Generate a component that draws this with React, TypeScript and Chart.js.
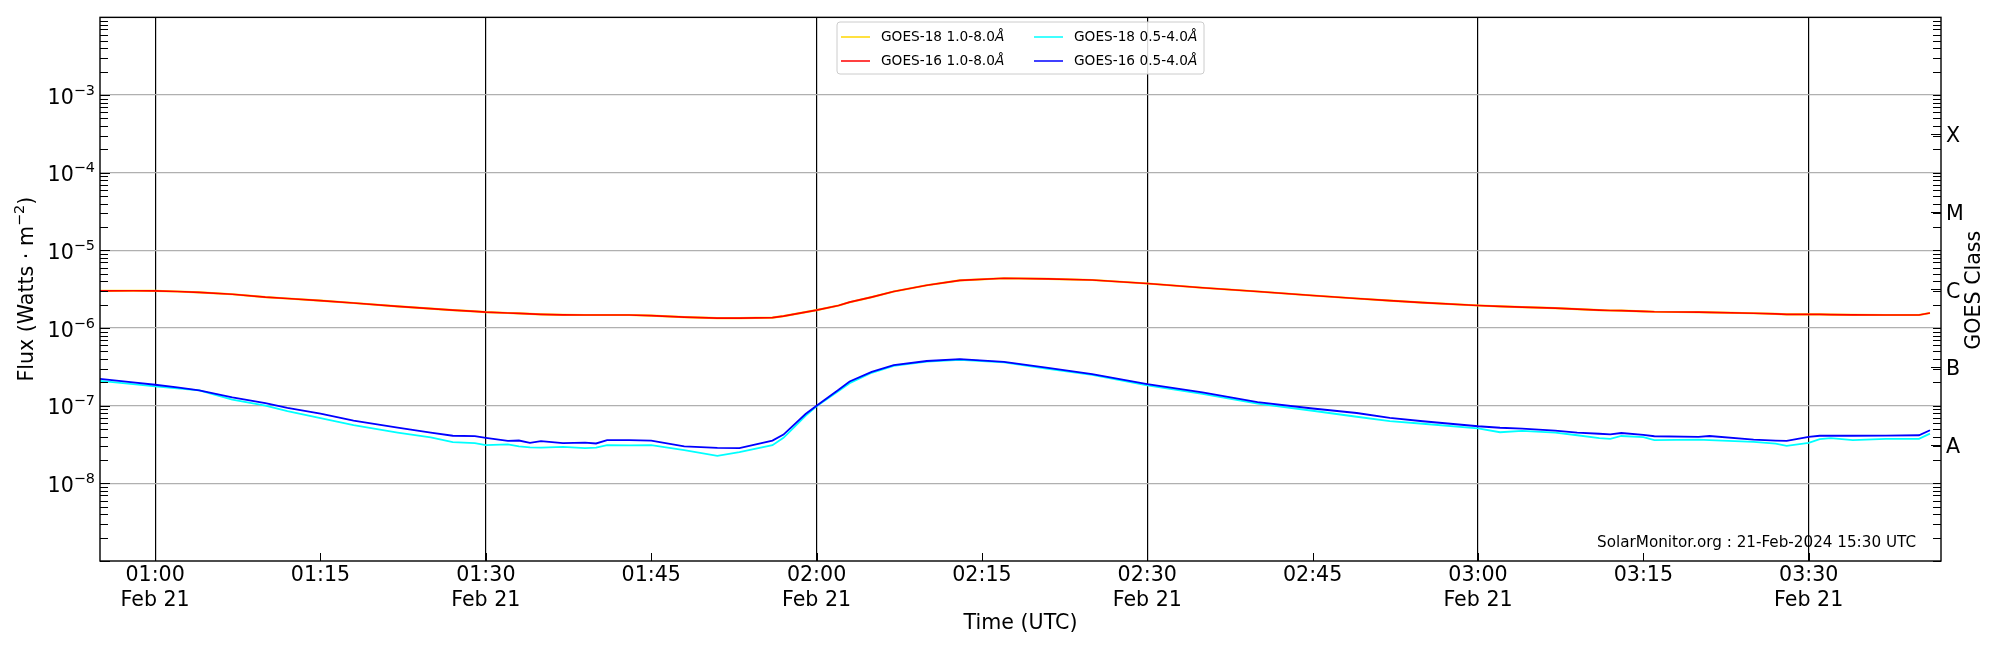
import { useEffect, useRef } from 'react';
import { Chart, registerables } from 'chart.js';

Chart.register(...registerables);

// minutes after 00:00 UTC on 21 Feb 2024
const times = [
  55, 58, 60, 62, 64, 67, 70, 72, 75, 78, 82, 85, 87, 89, 90, 92, 93, 94, 95, 97,
  99, 100, 101, 103, 105, 108, 111, 113, 116, 117, 119, 120, 122, 123, 125, 127, 130, 133, 137, 141,
  145, 150, 155, 160, 165, 169, 172, 175, 180, 182, 184, 187, 189, 191, 192, 193, 195, 196, 200, 201,
  205, 207, 208, 210, 211, 212, 214, 217, 220, 221,
];

// GOES-16 1.0-8.0 A
const goes16Long = [
  3.01e-6, 3.02e-6, 3.0e-6, 2.95e-6, 2.87e-6, 2.72e-6, 2.5e-6, 2.4e-6, 2.25e-6, 2.1e-6,
  1.9e-6, 1.78e-6, 1.7e-6, 1.64e-6, 1.6e-6, 1.56e-6, 1.54e-6, 1.52e-6, 1.5e-6, 1.48e-6,
  1.47e-6, 1.47e-6, 1.47e-6, 1.47e-6, 1.44e-6, 1.38e-6, 1.34e-6, 1.34e-6, 1.36e-6, 1.42e-6,
  1.6e-6, 1.7e-6, 1.95e-6, 2.15e-6, 2.5e-6, 2.95e-6, 3.55e-6, 4.1e-6, 4.37e-6, 4.3e-6,
  4.15e-6, 3.74e-6, 3.3e-6, 2.95e-6, 2.62e-6, 2.4e-6, 2.25e-6, 2.12e-6, 1.95e-6, 1.9e-6,
  1.86e-6, 1.8e-6, 1.75e-6, 1.7e-6, 1.68e-6, 1.67e-6, 1.64e-6, 1.62e-6, 1.6e-6, 1.59e-6,
  1.55e-6, 1.52e-6, 1.5e-6, 1.5e-6, 1.5e-6, 1.49e-6, 1.48e-6, 1.47e-6, 1.47e-6, 1.56e-6,
];

// GOES-18 1.0-8.0 A lies right under the GOES-16 curve
const goes18Long = [
  3.01e-6, 3.02e-6, 3.0e-6, 2.95e-6, 2.87e-6, 2.72e-6, 2.5e-6, 2.4e-6, 2.25e-6, 2.1e-6,
  1.9e-6, 1.78e-6, 1.7e-6, 1.64e-6, 1.6e-6, 1.56e-6, 1.54e-6, 1.52e-6, 1.5e-6, 1.48e-6,
  1.47e-6, 1.47e-6, 1.47e-6, 1.47e-6, 1.44e-6, 1.38e-6, 1.34e-6, 1.34e-6, 1.36e-6, 1.42e-6,
  1.6e-6, 1.7e-6, 1.95e-6, 2.15e-6, 2.5e-6, 2.95e-6, 3.55e-6, 4.1e-6, 4.37e-6, 4.3e-6,
  4.15e-6, 3.74e-6, 3.3e-6, 2.95e-6, 2.62e-6, 2.4e-6, 2.25e-6, 2.12e-6, 1.95e-6, 1.9e-6,
  1.86e-6, 1.8e-6, 1.75e-6, 1.7e-6, 1.68e-6, 1.67e-6, 1.64e-6, 1.62e-6, 1.6e-6, 1.59e-6,
  1.55e-6, 1.52e-6, 1.5e-6, 1.5e-6, 1.5e-6, 1.49e-6, 1.48e-6, 1.47e-6, 1.47e-6, 1.56e-6,
];

// GOES-16 0.5-4.0 A
const goes16Short = [
  2.22e-7, 2.0e-7, 1.86e-7, 1.72e-7, 1.57e-7, 1.28e-7, 1.08e-7, 9.4e-8, 7.9e-8, 6.4e-8,
  5.2e-8, 4.5e-8, 4.1e-8, 4.05e-8, 3.85e-8, 3.52e-8, 3.56e-8, 3.32e-8, 3.5e-8, 3.3e-8,
  3.34e-8, 3.26e-8, 3.6e-8, 3.6e-8, 3.55e-8, 3.0e-8, 2.86e-8, 2.84e-8, 3.55e-8, 4.25e-8,
  7.8e-8, 1.0e-7, 1.6e-7, 2.05e-7, 2.72e-7, 3.33e-7, 3.76e-7, 3.97e-7, 3.66e-7, 3.06e-7,
  2.55e-7, 1.9e-7, 1.48e-7, 1.11e-7, 9.2e-8, 8.05e-8, 6.95e-8, 6.3e-8, 5.43e-8, 5.2e-8,
  5.07e-8, 4.78e-8, 4.5e-8, 4.35e-8, 4.28e-8, 4.45e-8, 4.2e-8, 4.04e-8, 3.97e-8, 4.07e-8,
  3.66e-8, 3.55e-8, 3.52e-8, 3.96e-8, 4.1e-8, 4.1e-8, 4.1e-8, 4.12e-8, 4.16e-8, 4.83e-8,
];

// GOES-18 0.5-4.0 A
const goes18Short = [
  2.09e-7, 1.9e-7, 1.77e-7, 1.67e-7, 1.57e-7, 1.2e-7, 1.0e-7, 8.5e-8, 6.9e-8, 5.6e-8,
  4.5e-8, 3.9e-8, 3.4e-8, 3.3e-8, 3.1e-8, 3.17e-8, 3.0e-8, 2.9e-8, 2.88e-8, 2.95e-8,
  2.84e-8, 2.89e-8, 3.1e-8, 3.08e-8, 3.1e-8, 2.67e-8, 2.26e-8, 2.52e-8, 3.1e-8, 3.85e-8,
  7.4e-8, 9.8e-8, 1.55e-7, 1.95e-7, 2.65e-7, 3.25e-7, 3.7e-7, 3.9e-7, 3.6e-7, 2.97e-7,
  2.5e-7, 1.82e-7, 1.42e-7, 1.06e-7, 8.6e-8, 7.2e-8, 6.31e-8, 5.85e-8, 5.1e-8, 4.55e-8,
  4.73e-8, 4.5e-8, 4.16e-8, 3.81e-8, 3.74e-8, 4.07e-8, 3.93e-8, 3.6e-8, 3.66e-8, 3.6e-8,
  3.42e-8, 3.25e-8, 3.04e-8, 3.32e-8, 3.7e-8, 3.81e-8, 3.6e-8, 3.74e-8, 3.74e-8, 4.37e-8,
];

const xMin = 55;
const xMax = 222;
const timeTicks = [60, 75, 90, 105, 120, 135, 150, 165, 180, 195, 210];
const fluxTicks = [1e-8, 1e-7, 1e-6, 1e-5, 1e-4, 1e-3];
const classLetters = ['A', 'B', 'C', 'M', 'X'];
const classTicks = [10 ** -7.5, 10 ** -6.5, 10 ** -5.5, 10 ** -4.5, 10 ** -3.5];
const yMin = 1e-9;
const yMax = 1e-2;

const FONT = 'DejaVu Sans';
const TICK = 20.6;
const TITLE = 20.6;
const SUP = 14.4;
const SMALL = 13.7;

function fmtTime(m: number) {
  const hh = String(Math.floor(m / 60)).padStart(2, '0');
  const mm = String(m % 60).padStart(2, '0');
  return `${hh}:${mm}`;
}

function series(values: number[]) {
  return times.map((t, i) => ({ x: t, y: values[i] }));
}

// frame, inward ticks, power-of-ten labels, legend, stamp and side titles
const decorations = {
  id: 'decorations',
  afterDraw(chart: any) {
    const { ctx, chartArea: a, scales } = chart;
    const y = scales.y;
    const x = scales.x;
    ctx.save();
    ctx.strokeStyle = '#000';
    ctx.lineWidth = 1;

    ctx.beginPath();
    for (let e = -9; e <= -2; e++) {
      for (let k = 1; k <= 9; k++) {
        const v = k * 10 ** e;
        if (v < yMin * 0.999 || v > yMax * 1.001) continue;
        const py = Math.round(y.getPixelForValue(v)) + 0.5;
        ctx.moveTo(a.left, py);
        ctx.lineTo(a.left + (k === 1 ? 10 : 8), py);
        ctx.moveTo(a.right, py);
        ctx.lineTo(a.right - 8, py);
      }
    }
    classTicks.forEach((v) => {
      const py = Math.round(y.getPixelForValue(v)) + 0.5;
      ctx.moveTo(a.right, py);
      ctx.lineTo(a.right - 10, py);
    });
    timeTicks.forEach((t) => {
      const px = Math.round(x.getPixelForValue(t)) + 0.5;
      ctx.moveTo(px, a.bottom);
      ctx.lineTo(px, a.bottom - 8);
    });
    ctx.stroke();

    ctx.lineWidth = 1.4;
    ctx.strokeRect(a.left, a.top, a.right - a.left, a.bottom - a.top);

    // 10^n labels on the left axis
    ctx.fillStyle = '#000';
    ctx.textBaseline = 'alphabetic';
    ctx.textAlign = 'left';
    fluxTicks.forEach((v) => {
      const py = y.getPixelForValue(v);
      const expText = '−' + String(-Math.round(Math.log10(v)));
      ctx.font = `${SUP}px "${FONT}"`;
      const ws = ctx.measureText(expText).width;
      ctx.font = `${TICK}px "${FONT}"`;
      const wb = ctx.measureText('10').width;
      const x0 = a.left - 5 - ws - wb;
      ctx.fillText('10', x0, py + 8.5);
      ctx.font = `${SUP}px "${FONT}"`;
      ctx.fillText(expText, x0 + wb, py - 0.5);
    });

    // left axis title with a raised exponent
    {
      const p1 = 'Flux (Watts · m';
      const p2 = '−2';
      const p3 = ')';
      const supFont = `${SUP}px "${FONT}"`;
      ctx.font = `${TITLE}px "${FONT}"`;
      const w1 = ctx.measureText(p1).width;
      const w3 = ctx.measureText(p3).width;
      ctx.font = supFont;
      const w2 = ctx.measureText(p2).width;
      const total = w1 + w2 + w3;
      ctx.save();
      ctx.translate(32.5, (a.top + a.bottom) / 2);
      ctx.rotate(-Math.PI / 2);
      const s = -total / 2;
      ctx.font = `${TITLE}px "${FONT}"`;
      ctx.fillText(p1, s, 0);
      ctx.fillText(p3, s + w1 + w2, 0);
      ctx.font = supFont;
      ctx.fillText(p2, s + w1, -8.3);
      ctx.restore();
    }

    // legend, two columns
    ctx.fillStyle = 'rgba(255,255,255,0.85)';
    ctx.strokeStyle = '#cccccc';
    ctx.lineWidth = 1;
    ctx.beginPath();
    ctx.roundRect(837, 22, 367, 52, 3);
    ctx.fill();
    ctx.stroke();
    chart.data.datasets.forEach((ds: any, i: number) => {
      const col = Math.floor(i / 2);
      const row = i % 2;
      const sx = 841 + col * 193;
      const sy = 37 + row * 24;
      ctx.strokeStyle = ds.borderColor;
      ctx.lineWidth = 1.5;
      ctx.beginPath();
      ctx.moveTo(sx, sy);
      ctx.lineTo(sx + 29, sy);
      ctx.stroke();
      const main = ds.label.slice(0, -1);
      ctx.fillStyle = '#000';
      ctx.textBaseline = 'middle';
      ctx.textAlign = 'left';
      ctx.font = `${SMALL}px "${FONT}"`;
      ctx.fillText(main, sx + 40, sy);
      const w = ctx.measureText(main).width;
      ctx.font = `italic ${SMALL}px "${FONT}"`;
      ctx.fillText(ds.label.slice(-1), sx + 40 + w, sy);
    });

    // stamp
    ctx.font = `15.2px "${FONT}"`;
    ctx.textAlign = 'right';
    ctx.textBaseline = 'middle';
    ctx.fillStyle = '#000';
    ctx.fillText('SolarMonitor.org : 21-Feb-2024 15:30 UTC', 1916, 543);

    // right axis title, reading upwards
    ctx.translate(1975, (a.top + a.bottom) / 2 + 1);
    ctx.rotate(-Math.PI / 2);
    ctx.textAlign = 'center';
    ctx.font = `${TITLE}px "${FONT}"`;
    ctx.fillText('GOES Class', 0, 0);
    ctx.restore();
  },
};

export default function App() {
  const canvasRef = useRef<HTMLCanvasElement>(null);

  useEffect(() => {
    if (!canvasRef.current) return;
    Chart.defaults.font.family = FONT;
    Chart.defaults.color = '#000';

    const line = (label: string, color: string, values: number[], order: number, width: number) => ({
      label,
      data: series(values),
      borderColor: color,
      backgroundColor: color,
      borderWidth: width,
      pointRadius: 0,
      tension: 0,
      order,
      yAxisID: 'y',
    });

    const chart = new Chart(canvasRef.current, {
      type: 'line',
      data: {
        datasets: [
          line('GOES-18 1.0-8.0Å', '#ffd700', goes18Long, 3, 2.2),
          line('GOES-16 1.0-8.0Å', '#ff0000', goes16Long, 2, 1.7),
          line('GOES-18 0.5-4.0Å', '#00ffff', goes18Short, 1, 1.8),
          line('GOES-16 0.5-4.0Å', '#0000ff', goes16Short, 0, 1.8),
        ],
      },
      options: {
        animation: false,
        responsive: false,
        events: [],
        layout: { padding: { top: 15, left: 0, right: 0, bottom: 0 } },
        plugins: { legend: { display: false }, tooltip: { enabled: false } },
        scales: {
          x: {
            type: 'linear',
            position: 'bottom',
            min: xMin,
            max: xMax,
            afterBuildTicks: (s: any) => {
              s.ticks = timeTicks.map((v) => ({ value: v }));
            },
            afterFit: (s: any) => {
              s.height = 89;
            },
            ticks: {
              autoSkip: false,
              maxRotation: 0,
              padding: 3,
              color: '#000',
              font: { size: TICK, lineHeight: 1.17 },
              callback: (v: any) => (v % 30 === 0 ? [fmtTime(v), 'Feb 21'] : fmtTime(v)),
            },
            grid: {
              drawTicks: false,
              lineWidth: 1.2,
              color: (c: any) => (c.tick && c.tick.value % 30 === 0 ? '#000000' : 'rgba(0,0,0,0)'),
            },
            border: { display: false },
            title: {
              display: true,
              text: 'Time (UTC)',
              color: '#000',
              font: { size: TITLE },
              padding: { top: 0, bottom: 14 },
            },
          },
          y: {
            type: 'logarithmic',
            position: 'left',
            min: yMin,
            max: yMax,
            afterBuildTicks: (s: any) => {
              s.ticks = fluxTicks.map((v) => ({ value: v }));
            },
            afterFit: (s: any) => {
              s.width = 100;
            },
            ticks: { display: false, autoSkip: false },
            grid: { drawTicks: false, color: '#b0b0b0', lineWidth: 1.2 },
            border: { display: false },
          },
          y2: {
            type: 'logarithmic',
            position: 'right',
            min: yMin,
            max: yMax,
            afterBuildTicks: (s: any) => {
              s.ticks = classTicks.map((v) => ({ value: v }));
            },
            afterFit: (s: any) => {
              s.width = 59;
            },
            ticks: {
              autoSkip: false,
              padding: 5,
              labelOffset: 3,
              color: '#000',
              font: { size: TICK },
              callback: (_v: any, i: number) => classLetters[i],
            },
            grid: { display: false, drawTicks: false },
            border: { display: false },
          },
        },
      } as any,
      plugins: [decorations],
    });

    return () => chart.destroy();
  }, []);

  return (
    <div style={{ position: 'absolute', left: 0, top: 0, width: 2000, height: 650, background: '#fff' }}>
      <canvas ref={canvasRef} width={2000} height={650} style={{ width: 2000, height: 650 }} />
    </div>
  );
}
